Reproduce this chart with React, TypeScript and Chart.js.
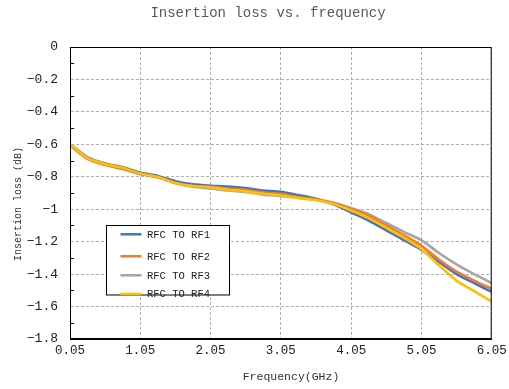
import React, { useEffect, useRef } from "react";
import { Chart, registerables } from "chart.js";

Chart.register(...registerables);

const freqGHz = [0.05, 0.3, 0.55, 0.8, 1.05, 1.3, 1.55, 1.8, 2.05, 2.3, 2.55, 2.8, 3.05, 3.3, 3.55, 3.8, 4.05, 4.3, 4.55, 4.8, 5.05, 5.3, 5.55, 5.8, 6.05];

const rf1 = [-0.6, -0.68, -0.718, -0.742, -0.775, -0.795, -0.828, -0.847, -0.855, -0.86, -0.87, -0.885, -0.893, -0.913, -0.935, -0.97, -1.02, -1.07, -1.13, -1.19, -1.25, -1.325, -1.4, -1.455, -1.51];
const rf2 = [-0.605, -0.69, -0.728, -0.752, -0.783, -0.802, -0.838, -0.857, -0.862, -0.873, -0.88, -0.898, -0.905, -0.925, -0.94, -0.962, -0.998, -1.04, -1.1, -1.16, -1.225, -1.31, -1.385, -1.44, -1.49];
const rf3 = [-0.605, -0.688, -0.725, -0.75, -0.783, -0.804, -0.84, -0.862, -0.872, -0.885, -0.893, -0.91, -0.918, -0.93, -0.94, -0.96, -0.993, -1.03, -1.085, -1.14, -1.19, -1.27, -1.34, -1.4, -1.455];
const rf4 = [-0.6, -0.685, -0.722, -0.745, -0.78, -0.802, -0.838, -0.857, -0.865, -0.88, -0.89, -0.905, -0.915, -0.93, -0.945, -0.968, -1.008, -1.055, -1.115, -1.175, -1.245, -1.345, -1.44, -1.505, -1.57];

const seriesNames = ["RFC TO RF1", "RFC TO RF2", "RFC TO RF3", "RFC TO RF4"];
const seriesColors = ["#4472C4", "#ED7D31", "#A5A5A5", "#FFC000"];
const seriesOrder = [3, 1, 2, 0];

const xTicks = [0.05, 1.05, 2.05, 3.05, 4.05, 5.05, 6.05];
const yTicks = [0, -0.2, -0.4, -0.6, -0.8, -1, -1.2, -1.4, -1.6, -1.8];
const yMinorTicks = [-0.1, -0.3, -0.5, -0.7, -0.9, -1.1, -1.3, -1.5, -1.7];

const chartTitle = "Insertion loss vs. frequency";
const xTitle = "Frequency(GHz)";
const yTitle = "Insertion loss (dB)";

const FONT = '"Liberation Mono", monospace';

const decorPlugin = {
  id: "decor",
  afterDatasetsDraw(chart: any) {
    const { ctx, chartArea: a } = chart;
    const yScale = chart.scales.y;
    ctx.save();
    ctx.strokeStyle = "#000";
    ctx.lineWidth = 1;
    ctx.setLineDash([]);
    ctx.strokeRect(a.left + 0.5, a.top + 0.5, a.right - a.left - 1, a.bottom - a.top - 1);
    ctx.beginPath();
    yMinorTicks.forEach((v) => {
      const y = Math.round(yScale.getPixelForValue(v)) + 0.5;
      ctx.moveTo(a.left, y);
      ctx.lineTo(a.left + 4, y);
    });
    ctx.stroke();
    ctx.restore();
  },
  afterDraw(chart: any) {
    const { ctx } = chart;
    ctx.save();
    ctx.textAlign = "center";
    ctx.textBaseline = "middle";
    // title
    ctx.fillStyle = "#595959";
    ctx.font = `14px ${FONT}`;
    ctx.fillText(chartTitle, 268, 13);
    // axis titles
    ctx.fillStyle = "#333";
    ctx.font = `11.5px ${FONT}`;
    ctx.fillText(xTitle, 291, 377);
    ctx.save();
    ctx.translate(18, 204);
    ctx.rotate(-Math.PI / 2);
    ctx.font = `10px ${FONT}`;
    ctx.fillText(yTitle, 0, 0);
    ctx.restore();

    // legend
    const bx = 106.5, by = 225.5, bw = 123, bh = 69.5;
    ctx.fillStyle = "#fff";
    ctx.fillRect(bx, by, bw, bh);
    ctx.strokeStyle = "#000";
    ctx.lineWidth = 1;
    ctx.strokeRect(bx, by, bw, bh);
    const rows = [234.3, 256.3, 275.3, 294];
    ctx.font = `10.5px ${FONT}`;
    ctx.textAlign = "left";
    seriesNames.forEach((name, i) => {
      const y = rows[i];
      ctx.strokeStyle = seriesColors[i];
      ctx.lineWidth = 2.5;
      ctx.beginPath();
      ctx.moveTo(120.5, y);
      ctx.lineTo(141.5, y);
      ctx.stroke();
      ctx.fillStyle = "#222";
      ctx.fillText(name, 147, y + 0.5);
    });
    ctx.restore();
  },
};

function fmtY(v: number) {
  const n = Math.round(v * 10) / 10;
  if (n === 0) return "0";
  return (n < 0 ? "\u2212" : "") + String(Math.abs(n));
}

export default function App() {
  const ref = useRef<HTMLCanvasElement | null>(null);

  useEffect(() => {
    if (!ref.current) return;
    const series = [rf1, rf2, rf3, rf4];
    const chart = new Chart(ref.current, {
      type: "line",
      data: {
        datasets: series.map((s, i) => ({
          label: seriesNames[i],
          data: freqGHz.map((f, j) => ({ x: f, y: s[j] })),
          borderColor: seriesColors[i],
          backgroundColor: seriesColors[i],
          borderWidth: 2.6,
          pointRadius: 0,
          tension: 0.2,
          order: seriesOrder[i],
        })),
      },
      options: {
        animation: false,
        responsive: true,
        maintainAspectRatio: false,
        layout: { padding: { top: 47, right: 17.3, bottom: 0, left: 0 } },
        plugins: {
          legend: { display: false },
          title: { display: false },
          tooltip: { enabled: false },
        },
        scales: {
          x: {
            type: "linear",
            min: 0.05,
            max: 6.05,
            afterBuildTicks: (scale: any) => {
              scale.ticks = xTicks.map((v) => ({ value: v }));
            },
            afterFit: (scale: any) => {
              scale.height = 50;
              scale.paddingLeft = 0;
              scale.paddingRight = 0;
            },
            ticks: {
              autoSkip: false,
              maxRotation: 0,
              padding: 4,
              color: "#222",
              font: { family: FONT, size: 12.5 },
              callback: (v: any) => Number(v).toFixed(2),
            },
            grid: { color: "#b0b0b0", lineWidth: 1, drawTicks: false },
            border: { display: true, color: "#000", width: 1, dash: [3, 2] },
          },
          y: {
            type: "linear",
            min: -1.8,
            max: 0,
            afterBuildTicks: (scale: any) => {
              scale.ticks = yTicks.map((v) => ({ value: v }));
            },
            afterFit: (scale: any) => {
              scale.width = 70;
            },
            ticks: {
              autoSkip: false,
              padding: 12,
              color: "#222",
              font: { family: FONT, size: 13 },
              callback: (v: any) => fmtY(Number(v)),
            },
            grid: { color: "#b0b0b0", lineWidth: 1, drawTicks: false },
            border: { display: true, color: "#000", width: 1, dash: [3, 2] },
          },
        },
      },
      plugins: [decorPlugin],
    });
    return () => chart.destroy();
  }, []);

  return (
    <div style={{ position: "absolute", left: 0, top: 0, width: 509, height: 389, background: "#fff" }}>
      <canvas ref={ref} />
    </div>
  );
}
